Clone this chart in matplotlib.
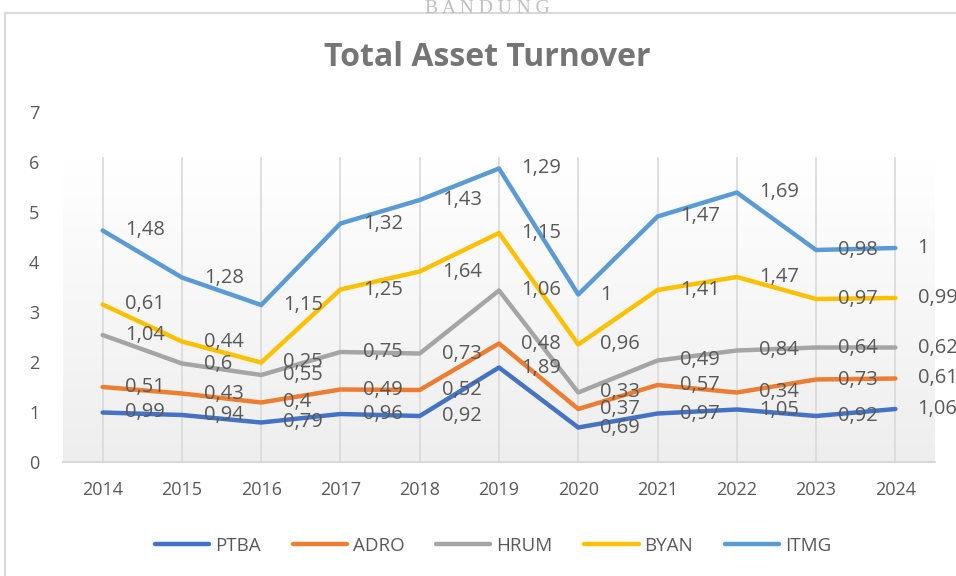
import matplotlib.pyplot as plt
import numpy as np
from matplotlib.patches import Rectangle
from matplotlib.colors import to_rgb

# data
years = ['2014', '2015', '2016', '2017', '2018', '2019', '2020', '2021', '2022', '2023', '2024']
ptba = [0.99, 0.94, 0.79, 0.96, 0.92, 1.89, 0.69, 0.97, 1.05, 0.92, 1.06]
adro = [0.51, 0.43, 0.4, 0.49, 0.52, 0.48, 0.37, 0.57, 0.34, 0.73, 0.61]
hrum = [1.04, 0.6, 0.55, 0.75, 0.73, 1.06, 0.33, 0.49, 0.84, 0.64, 0.62]
byan = [0.61, 0.44, 0.25, 1.25, 1.64, 1.15, 0.96, 1.41, 1.47, 0.97, 0.99]
itmg = [1.48, 1.28, 1.15, 1.32, 1.43, 1.29, 1, 1.47, 1.69, 0.98, 1]

series = [('PTBA', ptba, '#4472C4'), ('ADRO', adro, '#ED7D31'),
          ('HRUM', hrum, '#A5A5A5'), ('BYAN', byan, '#FFC000'),
          ('ITMG', itmg, '#5B9BD5')]

plt.rcParams['font.family'] = ['Open Sans', 'DejaVu Sans']

fig = plt.figure(figsize=(9.56, 5.76), dpi=100)
fig.patch.set_facecolor('white')

# chart frame and faded header from the source document
fig.patches.append(Rectangle((5/956, -0.05), 1.0, 1 - 13/576 + 0.05, transform=fig.transFigure,
                             fill=False, edgecolor='#D9D9D9', lw=1.5))
fig.text(0.51, 0.985, 'B A N D U N G', ha='center', va='center', fontsize=14,
         color='#C0C0C0', family='Liberation Serif')

ax = fig.add_axes([63/956, 1 - 462/576, (935 - 63)/956, 350/576])

# gradient plot background (white at top -> light grey at bottom)
grad_top = 6.08
top = np.array(to_rgb('#FFFFFF'))
bot = np.array(to_rgb('#EEEEEE'))
t = np.linspace(0, 1, 256).reshape(-1, 1, 1)
grad = bot * (1 - t) + top * t
ax.imshow(grad, extent=(-0.5, 10.5, 0, grad_top), aspect='auto', zorder=0, origin='lower')

x = np.arange(len(years))
cum = np.zeros(len(years))
for name, vals, col in series:
    cum = cum + np.array(vals)
    ax.plot(x, cum, color=col, lw=3.2, label=name, zorder=3, solid_capstyle='round')
    for xi, yi, v in zip(x, cum, vals):
        txt = ('%g' % v).replace('.', ',')
        ax.annotate(txt, (xi, yi), xytext=(16, 0), textcoords='offset points',
                    ha='left', va='center', fontsize=14.5, color='#595959', zorder=4)

for xi in x:
    ax.axvline(xi, ymax=grad_top / 7, color='#D9D9D9', lw=1.2, zorder=1)

ax.set_xlim(-0.5, 10.5)
ax.set_ylim(0, 7)
ax.set_xticks(x)
ax.set_xticklabels(years)
ax.set_yticks(range(8))
ax.tick_params(length=0, labelsize=13, labelcolor='#595959')
ax.tick_params(axis='x', pad=14)
ax.tick_params(axis='y', pad=17)
for s in ['top', 'right', 'left']:
    ax.spines[s].set_visible(False)
ax.spines['bottom'].set_color('#D9D9D9')
ax.spines['bottom'].set_linewidth(1.5)

fig.text(487/956, 1 - 58/576, 'Total Asset Turnover', ha='center', va='center',
         fontsize=23, fontweight='bold', color='#757575')

fig.legend(loc='center', bbox_to_anchor=(493/956, 1 - 546/576), ncol=5, frameon=False,
           fontsize=13.5, labelcolor='#595959', handlelength=2.9, handletextpad=0.3,
           columnspacing=1.7)

fig.savefig('out.png', dpi=100)
